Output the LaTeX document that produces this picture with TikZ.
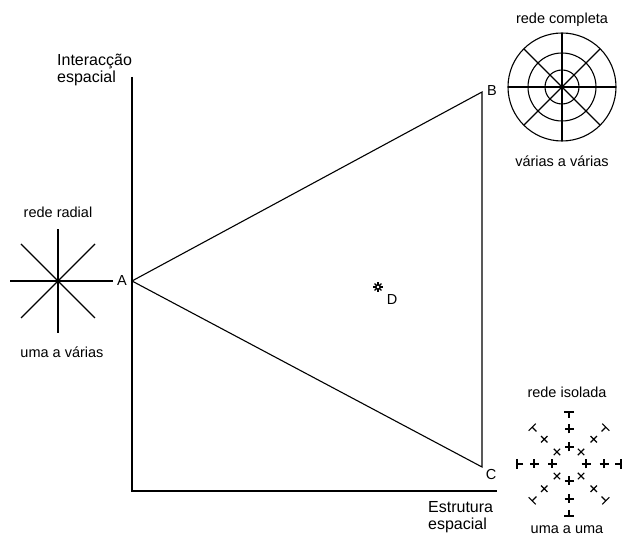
\documentclass[tikz,border=0pt]{standalone}
\usepackage{fontspec}
\setmainfont{Liberation Sans}
\tikzset{
	lbl/.style={font=\fontsize{14.5}{16}\selectfont, inner sep=0pt},
	axlbl/.style={font=\fontsize{16}{17}\selectfont, inner sep=0pt, align=left, anchor=west},
	net/.style={line width=1.1pt},
}
\begin{document}
\begin{tikzpicture}[x=1pt,y=1pt]
	\useasboundingbox (0,0) rectangle (622,543);
	% axes
	\coordinate (O) at (132,52);
	\coordinate (Ytop) at (132,466);
	\coordinate (Xend) at (497,52);
	\draw[line width=1.4pt] (Ytop)--(O)--(Xend);
	\node[axlbl] (ylab) at (57,473) {Interacção\\espacial};
	\node[axlbl] (xlab) at (428,26) {Estrutura\\espacial};
	% triangle
	\coordinate (A) at (132,262);
	\coordinate (B) at (482,451);
	\coordinate (C) at (482,76);
	\draw[line width=1.1pt] (A)--(B)--(C)--cycle;
	\node[lbl] (labA) at (122,262) {A};
	\node[lbl] (labB) at (492,452) {B};
	\node[lbl] (labC) at (491,68) {C};
	% point D
	\coordinate (D) at (378,256);
	\draw[line width=1.4pt] (D) circle (2.2pt);
	\foreach \a in {0,45,...,315}
		\draw[line width=1.3pt] ([shift={(\a:2pt)}]D)--([shift={(\a:4.8pt)}]D);
	\node[lbl] (labD) at (392,243) {D};
	% rede radial
	\coordinate (R) at (58,262);
	\draw[net] ([xshift=-48pt]R)--([xshift=55pt]R);
	\draw[net] ([yshift=-52pt]R)--([yshift=52pt]R);
	\draw[net] ([shift={(-37pt,-37pt)}]R)--([shift={(37pt,37pt)}]R);
	\draw[net] ([shift={(-37pt,37pt)}]R)--([shift={(37pt,-37pt)}]R);
	\fill (R) circle (1.3pt);
	\node[lbl] (radtop) at (58,331) {rede radial};
	\node[lbl] (radbot) at (62,191) {uma a várias};
	% rede completa
	\coordinate (K) at (562,456);
	\foreach \r in {17,34,54}
		\draw[net] (K) circle (\r pt);
	\foreach \a in {0,45,...,135}
		\draw[net] ([shift={(\a:54pt)}]K)--([shift={(\a+180:54pt)}]K);
	\node[lbl] (comptop) at (562,523) {rede completa};
	\node[lbl] (compbot) at (562,382) {várias a várias};
	% rede isolada
	\coordinate (I) at (569,79);
	\foreach \a in {0,45,...,315}{
		\begin{scope}[shift={(I)}, rotate=\a]
			\foreach \r in {17,35}
				\draw[net] (\r,-4.5)--(\r,4.5) (\r-4.5,0)--(\r+4.5,0);
			\draw[net] (52,-5)--(52,5) (46,0)--(52,0);
		\end{scope}
	}
	\node[lbl] (isotop) at (567,151) {rede isolada};
	\node[lbl] (isobot) at (567,13) {uma a uma};
\end{tikzpicture}
\end{document}
